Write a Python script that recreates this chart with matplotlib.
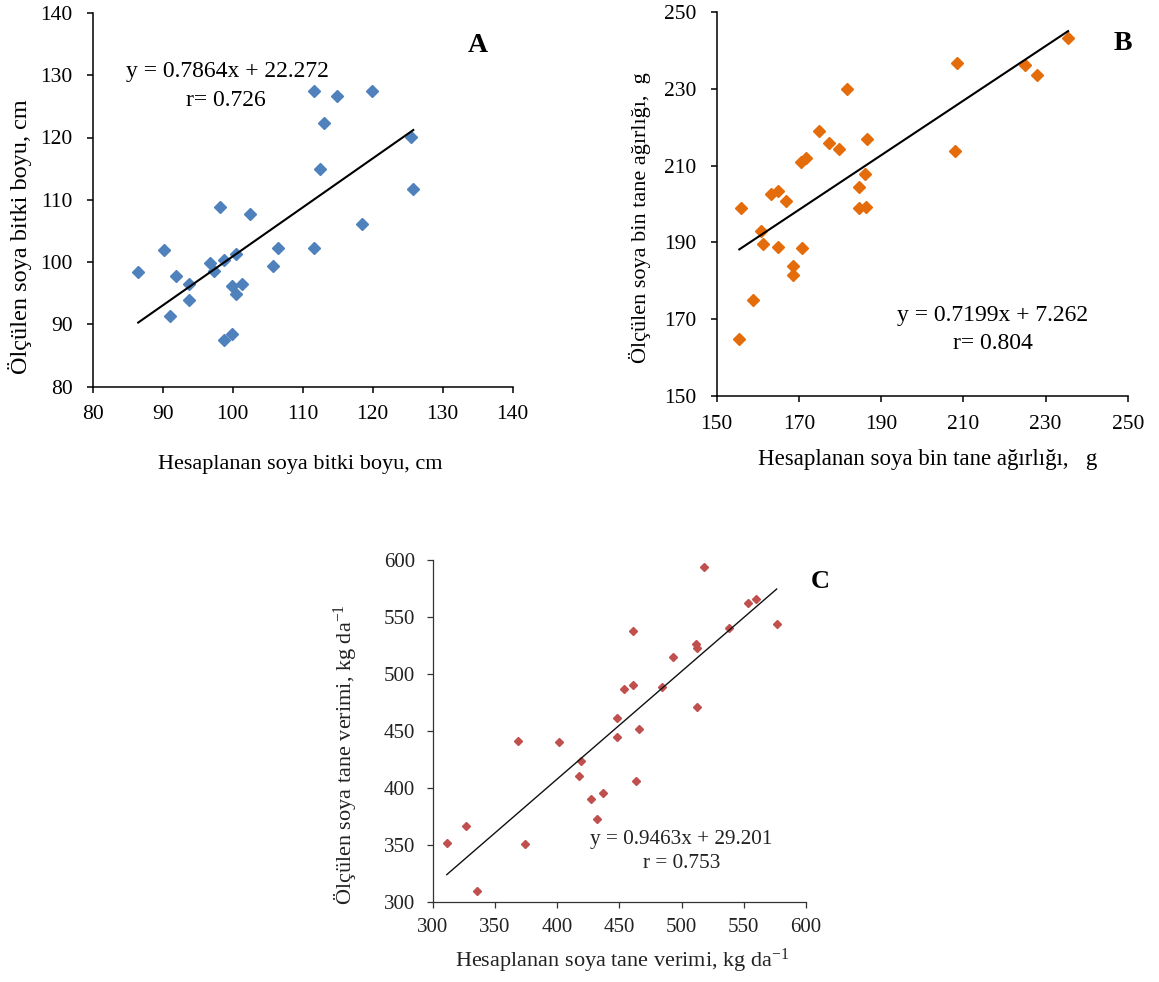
import numpy as np
import matplotlib
matplotlib.use("Agg")
import matplotlib.pyplot as plt

plt.rcParams['font.family'] = ['Liberation Serif', 'DejaVu Serif']
plt.rcParams['mathtext.fontset'] = 'custom'
plt.rcParams['mathtext.rm'] = 'Liberation Serif'
plt.rcParams['mathtext.it'] = 'Liberation Serif:italic'

# ---- Panel A: plant height (cm)
a_calc = [86.5, 90.2, 91.0, 91.9, 93.8, 93.8, 96.7, 97.3, 98.2, 98.7, 98.7, 99.9, 99.9, 100.4,
          100.4, 101.3, 102.5, 105.8, 106.5, 111.6, 111.6, 112.4, 113.0, 114.9, 118.4, 119.9,
          125.4, 125.8]
a_meas = [98.4, 101.9, 91.3, 97.8, 96.5, 93.9, 99.8, 98.6, 108.9, 100.3, 87.5, 88.5, 96.2, 94.8,
          101.3, 96.5, 107.7, 99.3, 102.2, 102.2, 127.5, 115.0, 122.4, 126.7, 106.1, 127.5,
          120.1, 111.8]
a_fit = (0.7864, 22.272)

# ---- Panel B: thousand seed weight (g)
b_calc = [155.5, 155.9, 158.9, 160.9, 161.3, 163.2, 164.8, 164.8, 166.9, 168.6, 168.6, 170.5,
          170.7, 171.7, 175.0, 177.4, 179.8, 181.8, 184.7, 184.7, 186.1, 186.3, 186.6, 208.0,
          208.4, 225.0, 228.0, 235.5]
b_meas = [164.8, 198.9, 175.0, 193.0, 189.6, 202.5, 203.4, 188.9, 200.8, 183.9, 181.5, 210.9,
          188.5, 211.9, 219.0, 215.8, 214.2, 229.9, 204.5, 198.9, 207.7, 199.3, 216.9, 213.8,
          236.6, 236.2, 233.6, 243.3]

# ---- Panel C: seed yield (kg/da)
c_calc = [311.3, 326.8, 335.4, 368.8, 374.2, 401.5, 418.9, 417.9, 427.0, 431.8, 436.6, 447.9,
          447.9, 454.0, 460.7, 460.7, 463.4, 466.1, 484.0, 493.4, 511.6, 512.7, 512.7, 518.1,
          538.4, 553.7, 559.6, 576.5]
c_meas = [351.3, 366.5, 309.7, 441.5, 350.4, 440.6, 423.9, 410.8, 390.0, 372.4, 395.2, 461.1,
          444.4, 486.6, 490.2, 537.9, 406.1, 451.5, 488.4, 515.4, 526.2, 522.7, 471.4, 593.9,
          540.3, 562.8, 566.0, 544.1]
c_fit = (0.9463, 29.201)

W, H = 1159, 982
fig = plt.figure(figsize=(W / 100, H / 100), dpi=100)


def ax_at(x0, x1, y0, y1):
    # pixel box -> figure fraction
    return fig.add_axes([x0 / W, 1 - y1 / H, (x1 - x0) / W, (y1 - y0) / H])


def style(ax, lw=1.1, color='black', size=15.5, tcolor='black', pad=10):
    for s in ['top', 'right']:
        ax.spines[s].set_visible(False)
    for s in ['left', 'bottom']:
        ax.spines[s].set_linewidth(lw)
        ax.spines[s].set_color(color)
    ax.tick_params(direction='out', length=4.5, width=lw, color=color,
                   labelsize=size, labelcolor=tcolor, pad=pad)


def ftext(x, y, s, **kw):
    fig.text(x / W, 1 - y / H, s, **kw)


# Panel A
axA = ax_at(92.7, 512.7, 12.9, 386.7)
style(axA)
axA.tick_params(axis='x', pad=9)
axA.set_xlim(80, 140)
axA.set_ylim(80, 140)
axA.set_xticks(np.arange(80, 141, 10))
axA.set_yticks(np.arange(80, 141, 10))
xa = np.array([min(a_calc), max(a_calc)])
axA.plot(xa, a_fit[0] * xa + a_fit[1], color='black', lw=1.5, zorder=3)
axA.plot(a_calc, a_meas, 'D', color='#4F81BD', ms=5.8, mec='#4F81BD', zorder=2, clip_on=False)
axA.text(99.3, 130.6, 'y = 0.7864x + 22.272', fontsize=17, ha='center', va='center')
axA.text(99.0, 126.0, 'r= 0.726', fontsize=17, ha='center', va='center')
axA.text(135.0, 134.8, 'A', fontsize=20, fontweight='bold', ha='center', va='center')
ftext(300, 465, 'Hesaplanan soya bitki boyu, cm', fontsize=16, ha='center', va='center')
ftext(20, 237, 'Ölçülen soya bitki boyu, cm', fontsize=17.5, ha='center', va='center', rotation=90)

# Panel B
axB = ax_at(716.7, 1127.7, 12, 396)
style(axB)
axB.tick_params(axis='x', pad=9)
axB.set_xlim(150, 250)
axB.set_ylim(150, 250)
axB.set_xticks(np.arange(150, 251, 20))
axB.set_yticks(np.arange(150, 251, 20))
b_fit = np.polyfit(b_calc, b_meas, 1)
xb = np.array([min(b_calc), max(b_calc)])
axB.plot(xb, b_fit[0] * xb + b_fit[1], color='black', lw=1.5, zorder=3)
axB.plot(b_calc, b_meas, 'D', color='#E46C0A', ms=5.8, mec='#E46C0A', zorder=2, clip_on=False)
axB.text(217.1, 170.9, 'y = 0.7199x + 7.262', fontsize=17, ha='center', va='center')
axB.text(217.3, 163.6, 'r= 0.804', fontsize=17, ha='center', va='center')
axB.text(248.8, 241.8, 'B', fontsize=20, fontweight='bold', ha='center', va='center', clip_on=False)
ftext(928, 460, 'Hesaplanan soya bin tane ağırlığı,   g', fontsize=16.5, ha='center', va='center')
ftext(640, 218, 'Ölçülen soya bin tane ağırlığı,  g', fontsize=16, ha='center', va='center', rotation=90)

# Panel C
axC = ax_at(432.7, 805.9, 560.3, 901.7)
style(axC, lw=0.9, color='#333333', size=15, tcolor='#222222', pad=8)
axC.tick_params(axis='x', pad=7)
axC.set_xlim(300, 600)
axC.set_ylim(300, 600)
axC.set_xticks(np.arange(300, 601, 50))
axC.set_yticks(np.arange(300, 601, 50))
xc = np.array([min(c_calc), max(c_calc)])
axC.plot(xc, c_fit[0] * xc + c_fit[1], color='#111111', lw=1.0, zorder=3)
axC.plot(c_calc, c_meas, 'D', color='#C0504D', ms=4.4, mec='#C0504D', zorder=2, clip_on=False)
axC.text(499.6, 355.0, 'y = 0.9463x + 29.201', fontsize=15.3, ha='center', va='center', color='#222222')
axC.text(500.0, 334.0, 'r = 0.753', fontsize=15.3, ha='center', va='center', color='#222222')
axC.text(611.3, 581.0, 'C', fontsize=19, fontweight='bold', ha='center', va='center', clip_on=False)
ftext(622, 961, 'Hesaplanan soya tane verimi, kg da$^{-1}$', fontsize=16, ha='center', va='center', color='#222222')
ftext(345, 755, 'Ölçülen soya tane verimi, kg da$^{-1}$', fontsize=16, ha='center', va='center',
      rotation=90, color='#222222')

fig.savefig('out.png', dpi=100)
